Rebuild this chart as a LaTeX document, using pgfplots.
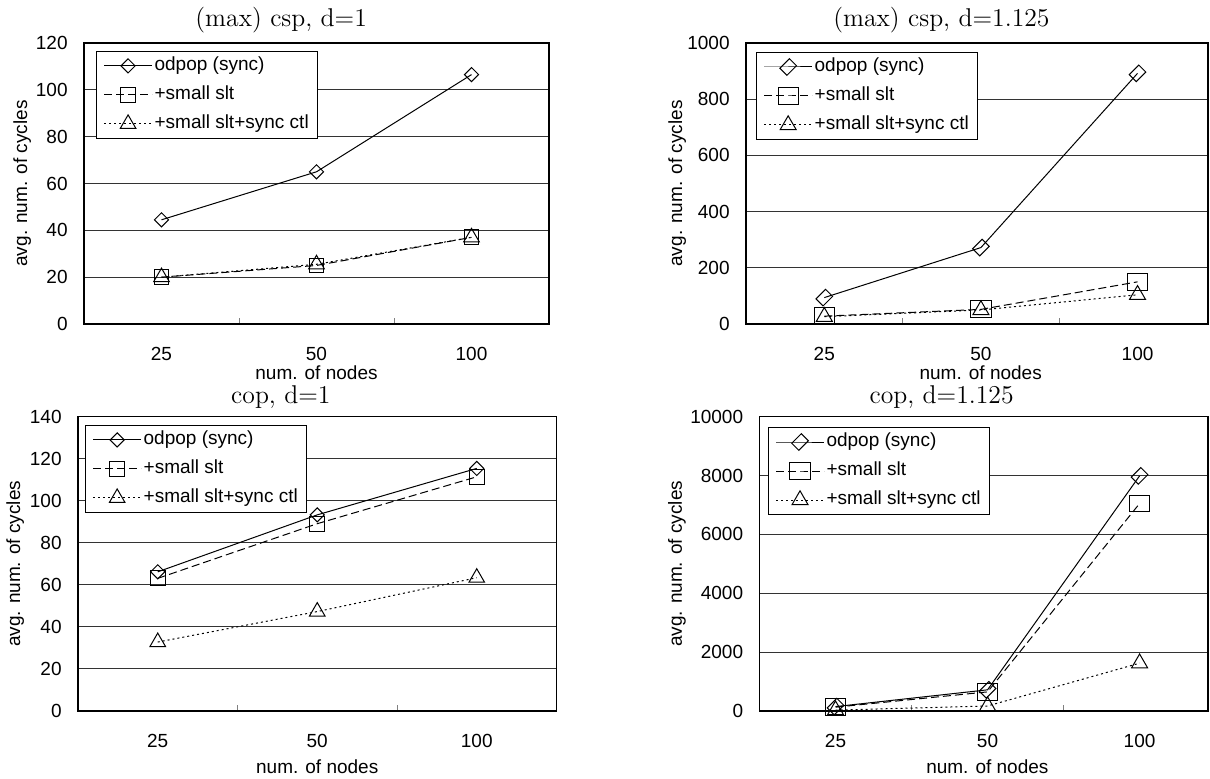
\documentclass[border=0pt]{standalone}
\usepackage{fontspec}
\usepackage{pgfplots}
\pgfplotsset{compat=1.18}
\newfontfamily\gothic{Liberation Sans}
\newcommand\sfs{\gothic\fontsize{9.5}{11}\selectfont}

\pgfplotsset{
 myax/.style={
  scale only axis,
  anchor=south west,
  xmin=-0.5,
  xtick={0,1,2}, xticklabels={25,50,100},
  minor xtick={0.5,1.5},
  major tick length=0pt, minor tick length=3pt,
  tick align=inside, tick pos=left,
  ymin=0,
  ymajorgrids, grid style={black!80, line width=0.5pt},
  axis line style={line width=0.75pt},
  tick label style={font=\sfs},
  /pgf/number format/assume math mode=true,
  /pgf/number format/1000 sep={},
  scaled y ticks=false,
  yticklabel style={anchor=east, inner sep=0pt, xshift=-8pt},
  xticklabel style={anchor=base, inner sep=0pt, yshift=-18pt},
  xlabel={num. of nodes}, ylabel={avg. num. of cycles},
  label style={font=\sfs},
  every axis title/.style={font=\fontsize{12.85}{15}\selectfont, anchor=base, yshift=8.3pt},
  legend cell align=left,
  legend style={anchor=north west, draw=black, line width=0.5pt, fill=white, font=\sfs,
    inner xsep=3.5pt, inner ysep=1.5pt, row sep=3pt,
    nodes={inner sep=1pt, text height=7pt, text depth=2.5pt}},
  legend image code/.code={\draw[mark repeat=2,mark phase=2] plot coordinates {(0pt,0pt) (12pt,0pt) (24pt,0pt)};},
 },
 s1/.style={black, line width=0.5pt, solid, mark=square, mark size=2.5pt, mark options={solid, rotate=45}},
 s2/.style={black, line width=0.5pt, dash pattern=on 4pt off 2pt, mark=square, mark size=3.7pt, mark options={solid}},
 s3/.style={black, line width=0.5pt, dash pattern=on 1pt off 1.5pt, mark=triangle, mark size=4.5pt, mark options={solid}},
 r1/.style={black, line width=0.5pt, solid, mark=square, mark size=2.5pt, mark options={solid, rotate=45, xscale=1.35}},
 r2/.style={black, line width=0.5pt, dash pattern=on 4pt off 2pt, mark=square, mark size=4.2pt, mark options={solid, xscale=1.2}},
 r3/.style={black, line width=0.5pt, dash pattern=on 1pt off 1.5pt, mark=triangle, mark size=4.6pt, mark options={solid}},
}

\begin{document}
\begin{tikzpicture}
\path[use as bounding box] (0,0) rectangle (605pt,389pt);

% top-left
\begin{axis}[myax, at={(42pt,227pt)}, width=232.5pt, height=140.5pt,
  xmax=2.5, ymax=120, ytick={0,20,...,120},
  title={(max) csp, d=1},
  title style={at={(axis description cs:0.424,1)}},
  xlabel style={at={(axis description cs:0.5,0)}, anchor=base, yshift=-27.5pt},
  ylabel style={at={(axis description cs:-0.133,0.5)}, anchor=center},
  legend style={at={(axis description cs:0.026,0.972)}}]
\addplot[s1] coordinates {(0,44.5) (1,65) (2,106.5)};
\addplot[s2] coordinates {(0,20) (1,25) (2,37)};
\addplot[s3] coordinates {(0,20) (1,25.5) (2,37)};
\legend{odpop (sync),+small slt,+small slt+sync ctl}
\end{axis}

% top-right
\begin{axis}[myax, at={(373pt,227pt)}, width=231pt, height=140.5pt,
  xmax=2.45, ymax=1000, ytick={0,200,...,1000},
  title={(max) csp, d=1.125},
  title style={at={(axis description cs:0.423,1)}},
  xlabel style={at={(axis description cs:0.508,0)}, anchor=base, yshift=-27.5pt},
  ylabel style={at={(axis description cs:-0.149,0.5)}, anchor=center},
  legend style={at={(axis description cs:0.022,0.968)}}]
\addplot[r1] coordinates {(0,94) (1,272) (2,892)};
\addplot[r2] coordinates {(0,28) (1,52) (2,150)};
\addplot[r3] coordinates {(0,26) (1,50) (2,104)};
\legend{odpop (sync),+small slt,+small slt+sync ctl}
\end{axis}

% bottom-left
\begin{axis}[myax, at={(39pt,33.5pt)}, width=239.25pt, height=147.15pt,
  xmax=2.5, ymax=140, ytick={0,20,...,140},
  title={cop, d=1},
  title style={at={(axis description cs:0.424,1)}, yshift=-1.8pt},
  xlabel style={at={(axis description cs:0.5,0)}, anchor=base, yshift=-31pt},
  ylabel style={at={(axis description cs:-0.131,0.5)}, anchor=center},
  legend style={at={(axis description cs:0.015,0.972)}}]
\addplot[s1] coordinates {(0,66.2) (1,93.3) (2,115.4)};
\addplot[s2] coordinates {(0,63.1) (1,89.1) (2,111.4)};
\addplot[s3] coordinates {(0,32.8) (1,47.3) (2,63.4)};
\legend{odpop (sync),+small slt,+small slt+sync ctl}
\end{axis}

% bottom-right
\begin{axis}[myax, at={(379.75pt,33.5pt)}, width=224.25pt, height=147.15pt,
  xmax=2.45, ymax=10000, ytick={0,2000,...,10000},
  title={cop, d=1.125},
  title style={at={(axis description cs:0.406,1)}, yshift=-1.8pt},
  xlabel style={at={(axis description cs:0.508,0)}, anchor=base, yshift=-31pt},
  ylabel style={at={(axis description cs:-0.184,0.5)}, anchor=center},
  legend style={at={(axis description cs:0.019,0.965)}}]
\addplot[r1] coordinates {(0,150) (1,720) (2,7990)};
\addplot[r2] coordinates {(0,130) (1,650) (2,7050)};
\addplot[r3] coordinates {(0,30) (1,170) (2,1625)};
\legend{odpop (sync),+small slt,+small slt+sync ctl}
\end{axis}
\end{tikzpicture}
\end{document}
